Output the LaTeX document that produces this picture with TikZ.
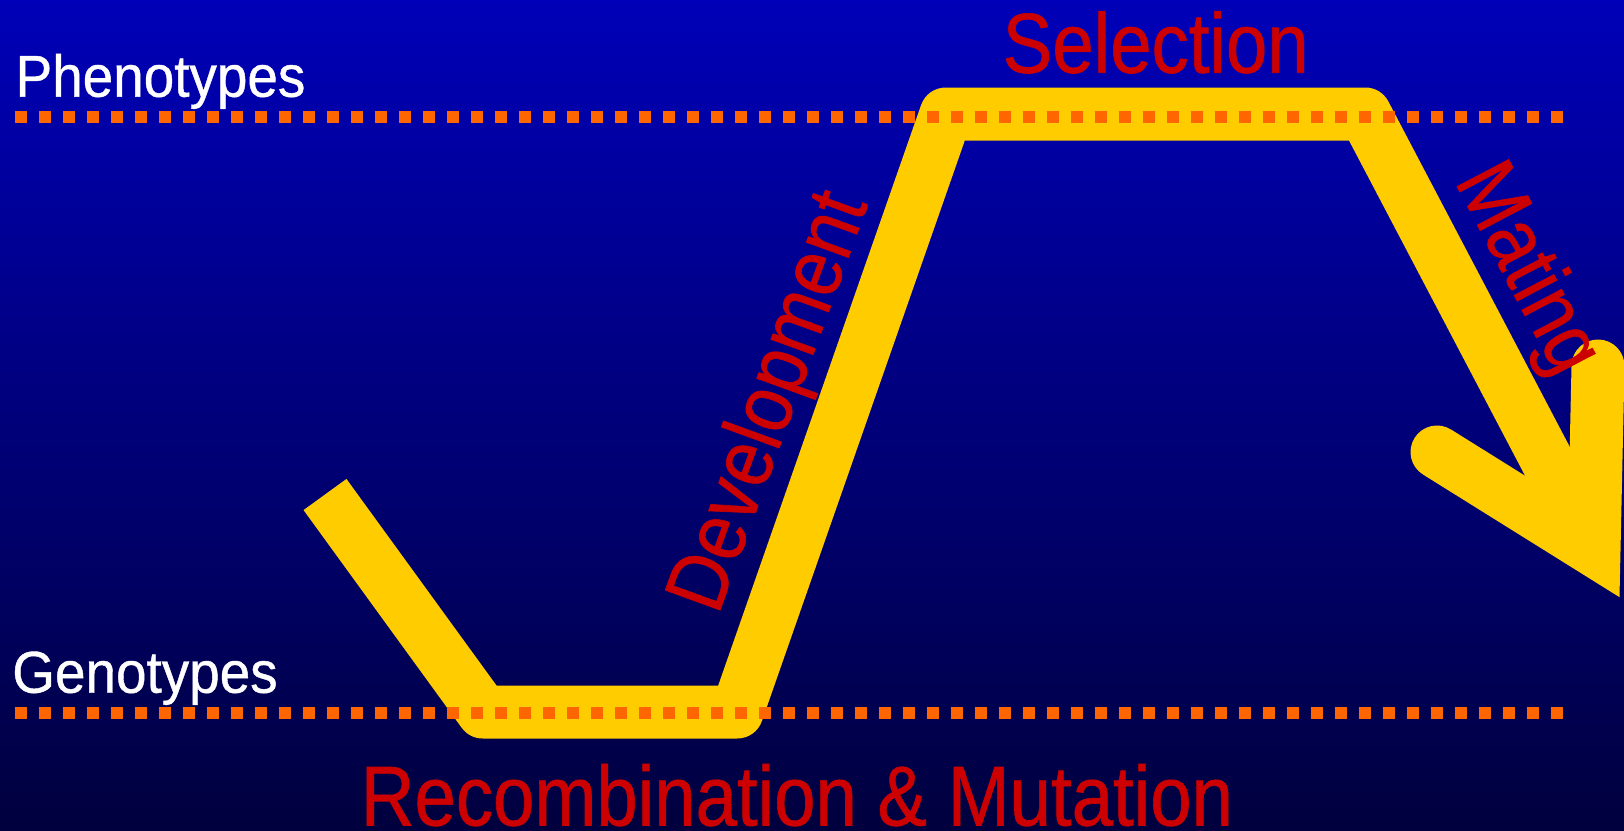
\documentclass[tikz,border=0pt]{standalone}
\usepackage{fontspec}
\newfontfamily\labfont[FakeStretch=0.875,FakeBold=0.7]{Liberation Sans}
\newfontfamily\axfont[FakeStretch=0.93,FakeBold=0.7]{Liberation Sans}
\definecolor{bgtop}{HTML}{0000B8}
\definecolor{bgbot}{HTML}{00003E}
\definecolor{gold}{HTML}{FFCC00}
\definecolor{dotorange}{HTML}{FF6600}
\definecolor{labred}{HTML}{CC0000}
\begin{document}
\begin{tikzpicture}[x=1pt,y=-1pt,
  band/.style={draw=gold, line width=53pt, line join=round, line cap=butt},
  headband/.style={draw=gold, line width=53pt, line join=miter, line cap=round},
  dotline/.style={draw=dotorange, line width=12pt, dash pattern=on 12pt off 12pt},
  axislabel/.style={text=white, font=\axfont\fontsize{59}{70}\selectfont, inner sep=0pt, anchor=base},
  steplabel/.style={text=labred, font=\labfont\fontsize{85}{100}\selectfont, inner sep=0pt, anchor=base}]
\useasboundingbox (0,0) rectangle (1624,830);
\shade[top color=bgtop, bottom color=bgbot] (0,0) rectangle (1624,830);
% corners of the cycle path
\coordinate (start) at (325,494.5);
\coordinate (bl) at (483,712);
\coordinate (br) at (737,712);
\coordinate (tl) at (946,114);
\coordinate (tr) at (1365,114);
\coordinate (tip) at (1594,550);
\coordinate (armL) at (1437,452);
\coordinate (armR) at (1598,366);
\draw[band] (start) -- (bl) -- (br) -- (tl) -- (tr) -- (tip);
\draw[headband] (armL) -- (tip) -- (armR);
% dotted levels
\coordinate (ph0) at (15,116.7);
\coordinate (ph1) at (1563.3,116.7);
\coordinate (ge0) at (15,713.3);
\coordinate (ge1) at (1563.3,713.3);
\draw[dotline] (ph0) -- (ph1);
\draw[dotline] (ge0) -- (ge1);
% labels
\node[axislabel] (pheno) at (160.5,96.7) {Phenotypes};
\node[axislabel] (geno) at (145,692.7) {Genotypes};
\node[steplabel] (sel) at (1155.7,72.7) {Selection};
\node[steplabel] (recomb) at (797,825.5) {Recombination \& Mutation};
\node[steplabel, rotate=70] (dev) at (793,410) {Development};
\node[steplabel, rotate=-62.3] (mat) at (1506,280) {Mating};
\end{tikzpicture}
\end{document}
